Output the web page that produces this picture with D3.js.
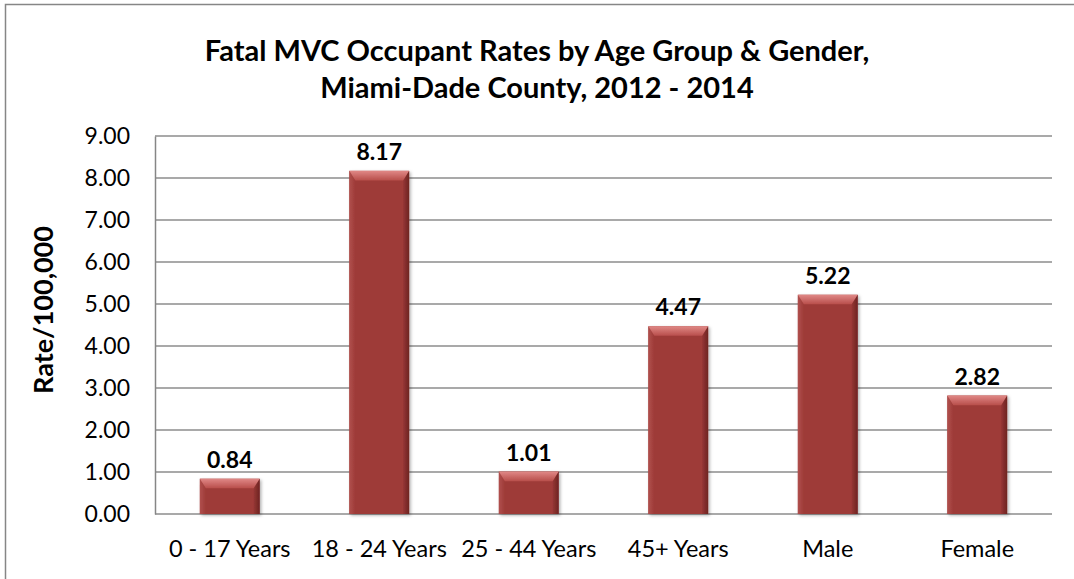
<!DOCTYPE html>
<html>
<head>
<meta charset="utf-8">
<script src="https://cdn.jsdelivr.net/npm/d3@7"></script>
<style>
	body { margin: 0; background: #fff; }
	svg { display: block; font-family: Lato, "Open Sans", sans-serif; }
</style>
</head>
<body>
<script>
//chart data
var categories = ["0 - 17 Years", "18 - 24 Years", "25 - 44 Years", "45+ Years", "Male", "Female"];
var rates = [0.84, 8.17, 1.01, 4.47, 5.22, 2.82];
var yTicks = [0, 1, 2, 3, 4, 5, 6, 7, 8, 9];
var titleLines = ["Fatal MVC Occupant Rates by Age Group & Gender,", "Miami-Dade County, 2012 - 2014"];
var yTitle = "Rate/100,000";

window.onload = drawChart();

function drawChart(){
	var width = 1074,
		height = 579;

	var svg = d3.select("body")
		.append("svg")
		.attr("width", width)
		.attr("height", height);

	//chart frame, right and bottom edges fall outside the picture
	svg.append("rect")
		.attr("x", 5.5)
		.attr("y", 4.5)
		.attr("width", width + 20)
		.attr("height", height + 20)
		.attr("fill", "#fff")
		.attr("stroke", "#868686")
		.attr("stroke-width", 1.5);

	//plot area
	var left = 155, right = 1052, top = 136, bottom = 514;

	var x = d3.scaleBand()
		.domain(categories)
		.range([left, right])
		.paddingInner(0.6)
		.paddingOuter(0.3);

	var y = d3.scaleLinear()
		.domain([0, 9])
		.range([bottom, top]);

	//gradients for the bevelled bars
	var defs = svg.append("defs");
	var topGrad = defs.append("linearGradient")
		.attr("id", "bevelTop")
		.attr("x1", 0).attr("y1", 0).attr("x2", 0).attr("y2", 1);
	topGrad.append("stop").attr("offset", "0%").attr("stop-color", "#e08886");
	topGrad.append("stop").attr("offset", "100%").attr("stop-color", "#b84e4b");
	var leftGrad = defs.append("linearGradient")
		.attr("id", "bevelLeft")
		.attr("x1", 0).attr("y1", 0).attr("x2", 1).attr("y2", 0);
	leftGrad.append("stop").attr("offset", "0%").attr("stop-color", "#b0504d");
	leftGrad.append("stop").attr("offset", "100%").attr("stop-color", "#9e3b38");
	var rightGrad = defs.append("linearGradient")
		.attr("id", "bevelRight")
		.attr("x1", 0).attr("y1", 0).attr("x2", 1).attr("y2", 0);
	rightGrad.append("stop").attr("offset", "0%").attr("stop-color", "#953634");
	rightGrad.append("stop").attr("offset", "100%").attr("stop-color", "#6e2422");
	var shadow = defs.append("filter")
		.attr("id", "shadow")
		.attr("x", "-20%").attr("y", "-20%").attr("width", "140%").attr("height", "140%");
	shadow.append("feDropShadow")
		.attr("dx", 1.5).attr("dy", 1.5)
		.attr("stdDeviation", 1.5)
		.attr("flood-color", "#000")
		.attr("flood-opacity", 0.3);

	//gridlines
	svg.append("g")
		.selectAll("line")
		.data(yTicks)
		.enter()
		.append("line")
		.attr("x1", left)
		.attr("x2", right)
		.attr("y1", function(d){ return y(d); })
		.attr("y2", function(d){ return y(d); })
		.attr("stroke", "#8c8c8c")
		.attr("stroke-width", 1.3);

	//y axis
	var yAxis = d3.axisLeft(y)
		.tickValues(yTicks)
		.tickSize(0)
		.tickPadding(25)
		.tickFormat(d3.format(".2f"));
	var yG = svg.append("g")
		.attr("transform", "translate(" + left + ",0)")
		.call(yAxis);
	yG.select(".domain").attr("stroke", "#868686").attr("stroke-width", 1.5);
	yG.selectAll("text")
		.attr("font-size", 23)
		.attr("font-family", "Lato")
		.attr("fill", "#000");

	//x axis labels
	var xAxis = d3.axisBottom(x).tickSize(0).tickPadding(26);
	var xG = svg.append("g")
		.attr("transform", "translate(0," + bottom + ")")
		.call(xAxis);
	xG.select(".domain").remove();
	xG.selectAll("text")
		.attr("font-size", 23.5)
		.attr("font-family", "Lato")
		.attr("fill", "#000");

	//bars
	var bars = svg.selectAll(".bar")
		.data(rates)
		.enter()
		.append("g")
		.attr("class", "bar")
		.attr("filter", "url(#shadow)");

	var bevel = 6;
	bars.append("rect")
		.attr("x", function(d, i){ return x(categories[i]); })
		.attr("y", function(d){ return y(d); })
		.attr("width", x.bandwidth())
		.attr("height", function(d){ return bottom - y(d); })
		.attr("fill", "#9e3b38");
	//left edge
	bars.append("polygon")
		.attr("points", function(d, i){
			var x0 = x(categories[i]), y0 = y(d);
			return [[x0, y0], [x0 + bevel, y0 + bevel], [x0 + bevel, bottom], [x0, bottom]].join(" ");
		})
		.attr("fill", "url(#bevelLeft)");
	//right edge
	bars.append("polygon")
		.attr("points", function(d, i){
			var x1 = x(categories[i]) + x.bandwidth(), y0 = y(d);
			return [[x1, y0], [x1 - bevel, y0 + bevel], [x1 - bevel, bottom], [x1, bottom]].join(" ");
		})
		.attr("fill", "url(#bevelRight)");
	//top bevel
	bars.append("polygon")
		.attr("points", function(d, i){
			var x0 = x(categories[i]), x1 = x0 + x.bandwidth(), y0 = y(d);
			return [[x0, y0], [x1, y0], [x1 - bevel, y0 + bevel * 1.6], [x0 + bevel, y0 + bevel * 1.6]].join(" ");
		})
		.attr("fill", "url(#bevelTop)");

	//value labels
	svg.selectAll(".valLabel")
		.data(rates)
		.enter()
		.append("text")
		.attr("class", "valLabel")
		.attr("x", function(d, i){ return x(categories[i]) + x.bandwidth() / 2; })
		.attr("y", function(d){ return y(d) - 11; })
		.attr("text-anchor", "middle")
		.attr("font-size", 23)
		.attr("font-weight", "bold")
		.attr("fill", "#000")
		.text(function(d){ return d3.format(".2f")(d); });

	//title
	svg.selectAll(".title")
		.data(titleLines)
		.enter()
		.append("text")
		.attr("class", "title")
		.attr("x", 537)
		.attr("y", function(d, i){ return 61 + i * 37; })
		.attr("text-anchor", "middle")
		.attr("font-size", 29)
		.attr("font-weight", "bold")
		.attr("fill", "#000")
		.text(function(d){ return d; });

	//y axis title
	svg.append("text")
		.attr("transform", "translate(53,310) rotate(-90)")
		.attr("text-anchor", "middle")
		.attr("font-size", 27)
		.attr("font-weight", "bold")
		.attr("fill", "#000")
		.text(yTitle);
};
</script>
</body>
</html>
